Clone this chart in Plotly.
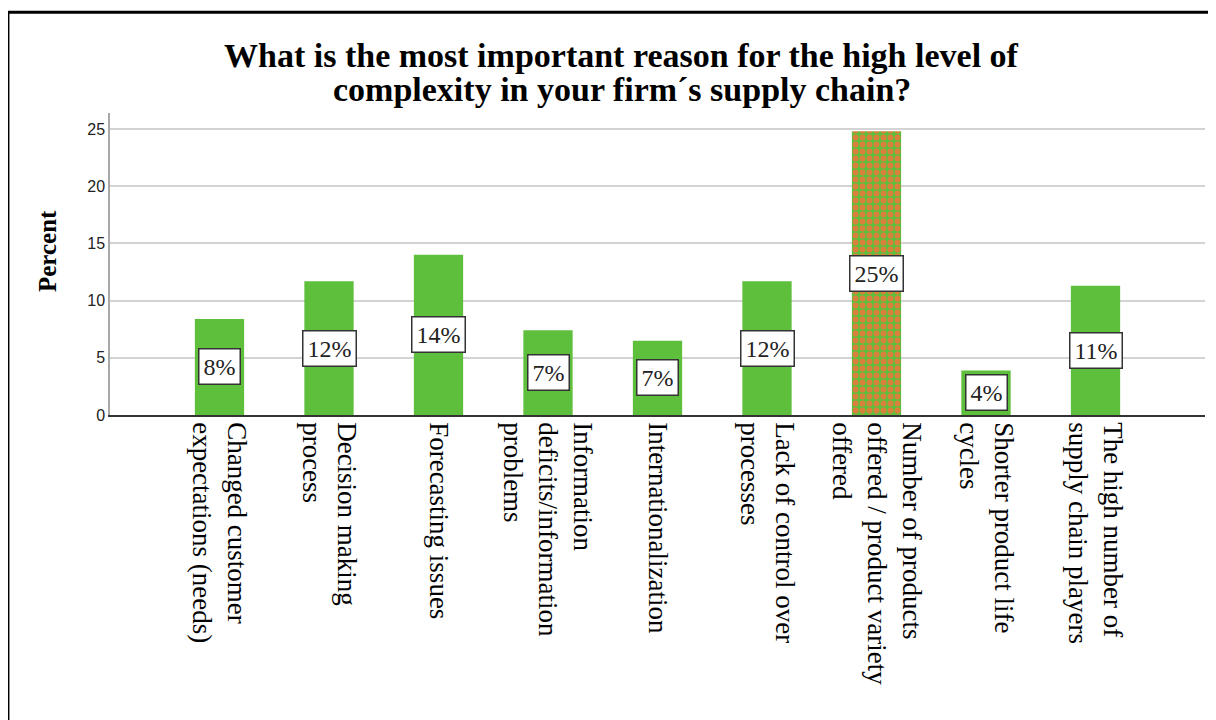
import plotly.graph_objects as go

title_lines = [
    "What is the most important reason for the high level of",
    "complexity in your firm\u00b4s supply chain?",
]
categories = [
    "Changed customer<br>expectations (needs)",
    "Decision making<br>process",
    "Forecasting issues",
    "Information<br>deficits/information<br>problems",
    "Internationalization",
    "Lack of control over<br>processes",
    "Number of products<br>offered / product variety<br>offered",
    "Shorter product life<br>cycles",
    "The high number of<br>supply chain players",
]
percent = [8.4, 11.7, 14.0, 7.4, 6.5, 11.7, 24.8, 3.9, 11.3]
labels = ["8%", "12%", "14%", "7%", "7%", "12%", "25%", "4%", "11%"]
patterns = ["", "", "", "", "", "", ".", "", ""]
y_ticks = [0, 5, 10, 15, 20, 25]

GREEN = "#5dbf3b"
ORANGE = "#d9803a"
SERIF = "Liberation Serif, Times New Roman, serif"
SANS = "Liberation Sans, Arial, sans-serif"

fig = go.Figure()
fig.add_trace(go.Bar(
    x=list(range(len(categories))),
    y=percent,
    width=0.45,
    marker=dict(
        color=GREEN,
        line=dict(width=0),
        pattern=dict(shape=patterns, fgcolor=ORANGE, bgcolor=GREEN,
                     size=7, solidity=0.55, fillmode="replace"),
    ),
    hoverinfo="skip",
))

for i, (v, t) in enumerate(zip(percent, labels)):
    fig.add_annotation(
        x=i, y=v / 2, text=t, showarrow=False,
        font=dict(family=SERIF, size=24, color="#222222"),
        bgcolor="white", bordercolor="#333333", borderwidth=1.5, borderpad=4,
    )

# chart title (two lines)
for line, ypos in zip(title_lines, [1.192, 1.078]):
    fig.add_annotation(
        xref="paper", yref="paper", x=0.4672, y=ypos,
        text=line, showarrow=False,
        font=dict(family=SERIF, size=34, color="black", weight="bold"),
        xanchor="center", yanchor="middle",
    )

# y-axis title
fig.add_annotation(
    xref="paper", yref="paper", x=-0.0575, y=0.543,
    text="Percent", textangle=-90, showarrow=False,
    font=dict(family=SERIF, size=25, color="black", weight="bold"),
    xanchor="center", yanchor="middle",
)

# outer frame (top and left edges visible)
fig.add_shape(type="line", xref="paper", yref="paper",
              x0=-0.0932, x1=1.03, y0=1.334, y1=1.334,
              line=dict(color="black", width=3))
fig.add_shape(type="line", xref="paper", yref="paper",
              x0=-0.0932, x1=-0.0932, y0=1.334, y1=-1.1,
              line=dict(color="black", width=3))

fig.update_layout(
    width=1208, height=712,
    margin=dict(l=102, r=11, t=105, b=305),
    paper_bgcolor="white", plot_bgcolor="white",
    showlegend=False,
    xaxis=dict(
        range=[-1, 9],
        tickmode="array",
        tickvals=list(range(len(categories))),
        ticktext=categories,
        tickangle=90,
        tickfont=dict(family=SERIF, size=27, color="black"),
        showgrid=False, zeroline=False,
        showline=True, linecolor="#333333", linewidth=1.5,
        ticks="",
    ),
    yaxis=dict(
        range=[0, 26.4],
        tickmode="array", tickvals=y_ticks,
        tickfont=dict(family=SANS, size=16, color="#222222"),
        showgrid=True, gridcolor="#d3d3d3", gridwidth=1.5,
        zeroline=False,
        showline=True, linecolor="#a8a8a8", linewidth=1.5,
        ticks="",
    ),
)

fig.write_html("out.html")
